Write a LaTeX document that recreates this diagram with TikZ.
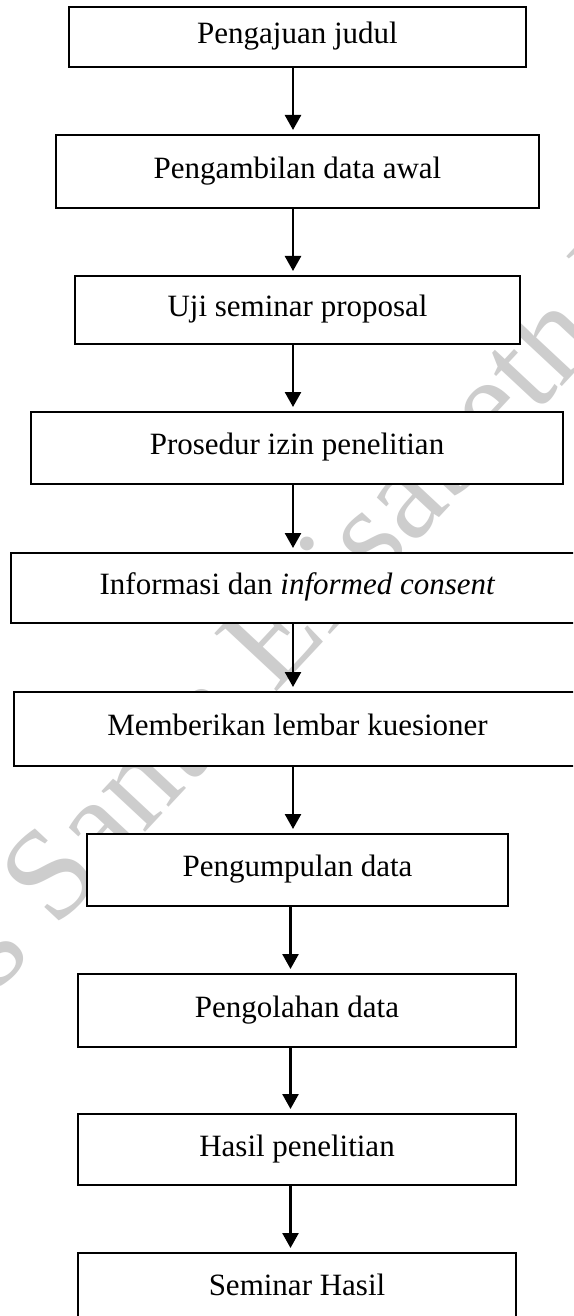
\documentclass[tikz,border=0pt]{standalone}
\usepackage{fontspec}
\setmainfont{Liberation Serif}
\usetikzlibrary{arrows.meta}
\definecolor{wmgray}{RGB}{205,205,205}
\begin{document}
\begin{tikzpicture}[x=0.5pt,y=-0.5pt,
  box/.style={draw=black, fill=white, line width=0.75pt, rectangle, inner sep=0pt, outer sep=0pt,
    font=\fontsize{15.5}{18}\selectfont, text height=0.86em, text depth=0.2em},
  arr/.style={line width=1.25pt, -{Triangle[width=8pt,length=7.5pt]}, shorten >=2.5pt},
  wm/.style={text=wmgray, inner sep=0pt, font=\fontsize{65}{65}\selectfont}]
\clip (0,0) rectangle (573,1316);
\fill[white] (0,0) rectangle (573,1316);
% watermark (behind the boxes)
\node[wm, rotate=47, anchor=base west] (wmb) at (55,930) {Santa Elisabeth Medan};
\node[wm, rotate=47, anchor=base east] (wma) at (33,954) {STIKes};
% boxes
\node[box, minimum width=228.5pt, minimum height=30pt]   (b1)  at (297.5,37)    {Pengajuan judul};
\node[box, minimum width=241.5pt, minimum height=36.5pt] (b2)  at (297.5,171.5) {Pengambilan data awal};
\node[box, minimum width=222.5pt, minimum height=34pt]   (b3)  at (297.5,310)   {Uji seminar proposal};
\node[box, minimum width=266pt,   minimum height=36pt]   (b4)  at (297,448)     {Prosedur izin penelitian};
\node[box, minimum width=286.5pt, minimum height=35pt]   (b5)  at (297.5,588)   {Informasi dan \textit{informed consent}};
\node[box, minimum width=283.5pt, minimum height=37pt]   (b6)  at (297.5,729)   {Memberikan lembar kuesioner};
\node[box, minimum width=210.5pt, minimum height=36pt]   (b7)  at (297.5,870)   {Pengumpulan data};
\node[box, minimum width=219pt,   minimum height=36.5pt] (b8)  at (297,1010.5)  {Pengolahan data};
\node[box, minimum width=219pt,   minimum height=35.5pt] (b9)  at (297,1149.5)  {Hasil penelitian};
\node[box, minimum width=219pt,   minimum height=36pt]   (b10) at (297,1289)    {Seminar Hasil};
% arrow axes
\coordinate (ax) at (293,0);
\coordinate (ay) at (290.5,0);
\draw[arr] (b1.south -| ax) -- (b2.north -| ax);
\draw[arr] (b2.south -| ax) -- (b3.north -| ax);
\draw[arr] (b3.south -| ax) -- (b4.north -| ax);
\draw[arr] (b4.south -| ax) -- (b5.north -| ax);
\draw[arr] (b5.south -| ax) -- (b6.north -| ax);
\draw[arr] (b6.south -| ax) -- (b7.north -| ax);
\draw[arr] (b7.south -| ay) -- (b8.north -| ay);
\draw[arr] (b8.south -| ay) -- (b9.north -| ay);
\draw[arr] (b9.south -| ay) -- (b10.north -| ay);
\end{tikzpicture}
\end{document}
